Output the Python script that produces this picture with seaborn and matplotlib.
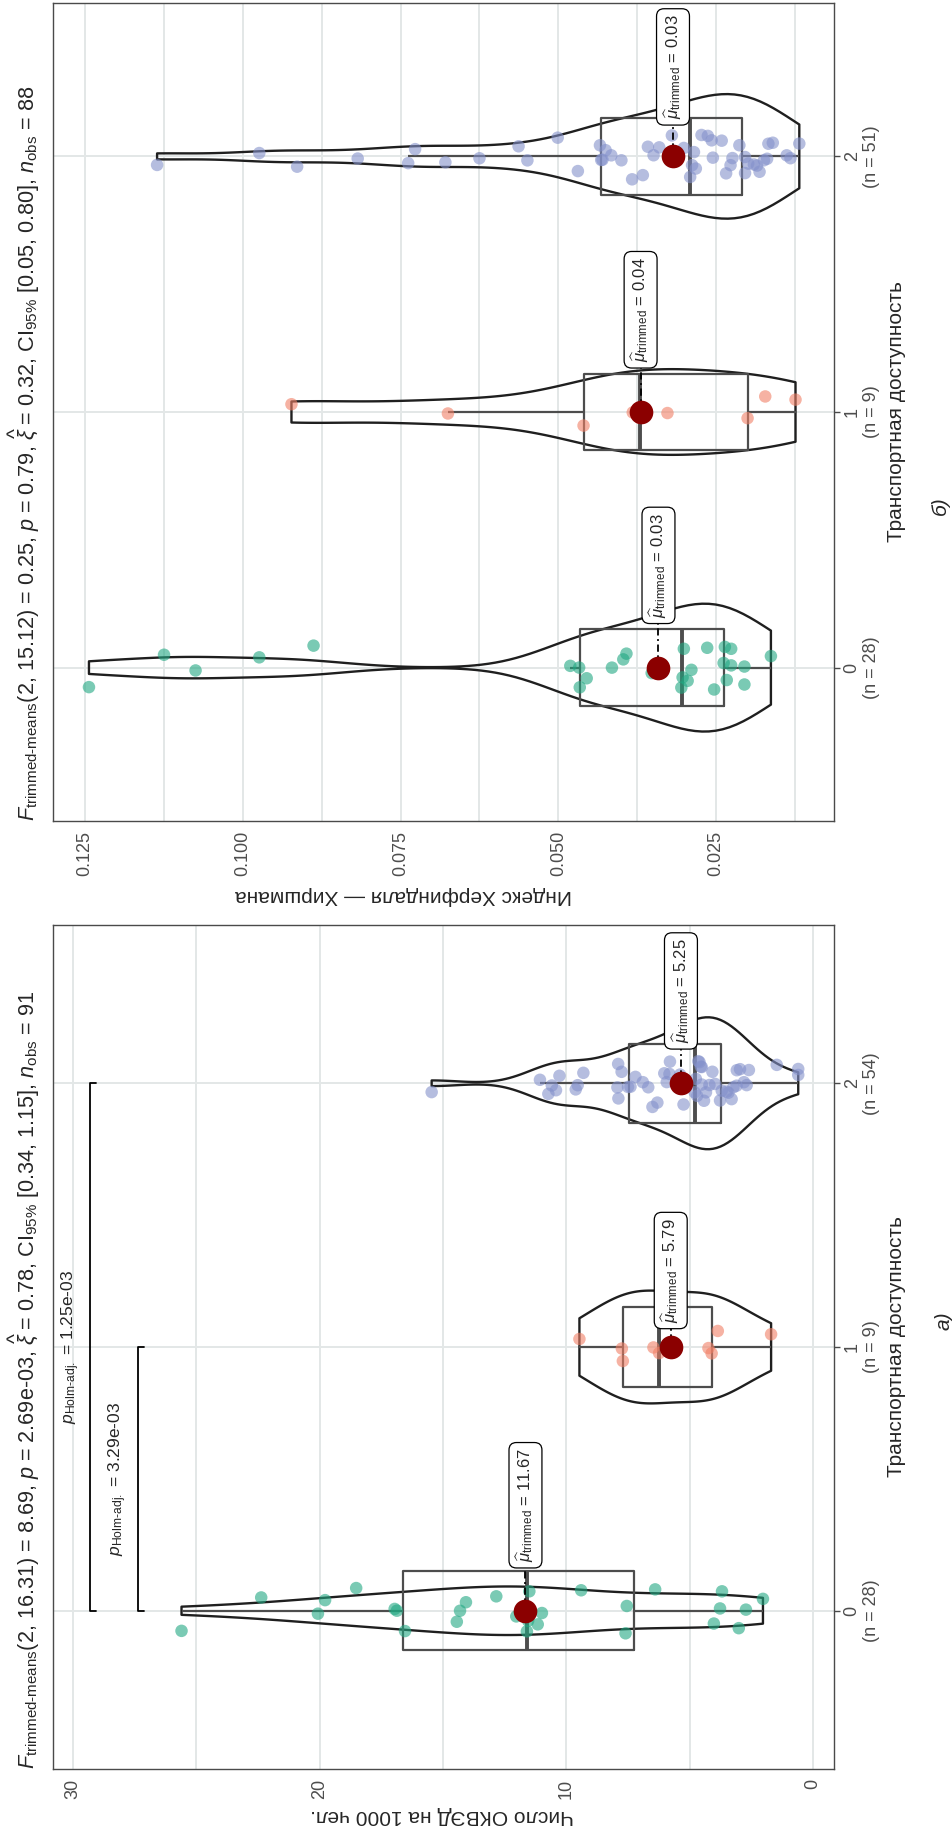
import numpy as np
import pandas as pd
import matplotlib
matplotlib.use("Agg")
import matplotlib.pyplot as plt
import seaborn as sns

sns.set_style("white")
plt.rcParams["font.family"] = ["Liberation Sans", "DejaVu Sans"]
plt.rcParams["mathtext.fontset"] = "custom"
plt.rcParams["mathtext.rm"] = "Liberation Sans"
plt.rcParams["mathtext.it"] = "Liberation Sans:italic"
plt.rcParams["mathtext.bf"] = "Liberation Sans:bold"

# ---------------- data ----------------
groups = ["0", "1", "2"]
palette = ["#21A882", "#F18066", "#8491CB"]

# panel a) : Число ОКВЭД на 1000 чел.
a_g0 = [25.6, 22.37, 20.07, 19.78, 18.52, 16.96, 16.87, 16.54, 14.44, 14.31,
        14.07, 12.84, 12.03, 11.6, 11.55, 11.5, 11.16, 10.99, 9.40, 7.60,
        7.55, 6.40, 4.02, 3.77, 3.69, 3.01, 2.72, 2.03]
a_g1 = [9.47, 7.75, 7.71, 6.47, 6.24, 4.24, 4.11, 3.86, 1.70]
a_g2 = [15.46, 11.07, 10.73, 10.59, 10.42, 10.28, 9.62, 9.54, 9.31, 7.93,
        7.90, 7.89, 7.76, 7.50, 7.40, 7.20, 6.90, 6.68, 6.51, 6.31,
        6.03, 5.93, 5.82, 5.80, 5.39, 5.25, 4.80, 4.75, 4.70, 4.65,
        4.60, 4.55, 4.51, 4.51, 4.42, 4.34, 4.20, 4.08, 3.97, 3.77,
        3.70, 3.50, 3.43, 3.30, 3.23, 3.10, 3.09, 2.96, 2.80, 2.69,
        2.60, 1.47, 0.60, 0.60]
a_mean_labels = ["11.67", "5.79", "5.25"]
a_title = (r"$\mathit{F}_{\mathrm{trimmed‐means}}$(2, 16.31) = 8.69, $\mathit{p}$ = 2.69e-03, "
           r"$\widehat{\xi}$ = 0.78, CI$_{95\%}$ [0.34, 1.15], $\mathit{n}_{\mathrm{obs}}$ = 91")
a_ylabel = "Число ОКВЭД на 1000 чел."
a_pairs = [(0, 1), (0, 2)]
a_pair_levels = [27.37, 29.31]
a_pair_p = ["3.29e-03", "1.25e-03"]

# panel б) : Индекс Херфиндаля — Хиршмана
b_g0 = [0.1244, 0.1125, 0.1075, 0.0974, 0.0888, 0.0481, 0.0467, 0.0466, 0.0455, 0.0415,
        0.0397, 0.0392, 0.0352, 0.0305, 0.0303, 0.0301, 0.0295, 0.0289, 0.0264, 0.0253,
        0.0238, 0.0236, 0.0233, 0.0226, 0.0226, 0.0205, 0.0205, 0.0163]
b_g1 = [0.0923, 0.0675, 0.0460, 0.0382, 0.0371, 0.0327, 0.0200, 0.0172, 0.0124]
b_g2 = [0.1136, 0.0974, 0.0914, 0.0818, 0.0738, 0.0727, 0.0679, 0.0625, 0.0563, 0.0549,
        0.0501, 0.0469, 0.0434, 0.0432, 0.0430, 0.0425, 0.0416, 0.0400, 0.0383, 0.0366,
        0.0358, 0.0349, 0.0340, 0.0320, 0.0301, 0.0291, 0.0288, 0.0285, 0.0282, 0.0273,
        0.0263, 0.0257, 0.0255, 0.0241, 0.0234, 0.0227, 0.0224, 0.0213, 0.0204, 0.0204,
        0.0199, 0.0190, 0.0185, 0.0181, 0.0174, 0.0169, 0.0167, 0.0160, 0.0138, 0.0132,
        0.0118]
b_mean_labels = ["0.03", "0.04", "0.03"]
b_title = (r"$\mathit{F}_{\mathrm{trimmed‐means}}$(2, 15.12) = 0.25, $\mathit{p}$ = 0.79, "
           r"$\widehat{\xi}$ = 0.32, CI$_{95\%}$ [0.05, 0.80], $\mathit{n}_{\mathrm{obs}}$ = 88")
b_ylabel = "Индекс Херфиндаля — Хиршмана"

xlabel = "Транспортная доступность"


# ---------------- helpers ----------------
def nrd0(kde):
    d = np.asarray(kde.dataset).ravel()
    n = d.size
    sd = d.std(ddof=1)
    q75, q25 = np.percentile(d, [75, 25])
    lo = min(sd, (q75 - q25) / 1.34)
    if lo <= 0:
        lo = sd
    return 0.9 * lo * n ** (-0.2) / sd


def trimmed_mean(v, tr=0.2):
    s = np.sort(np.asarray(v))
    g = int(np.floor(tr * len(s)))
    return s[g:len(s) - g].mean()


W, H = 953, 1829
fig = plt.figure(figsize=(W / 100, H / 100), dpi=100)


def fx(x):
    return x / W


def fy(y):
    return 1 - y / H


def add_ax(x0, y0, x1, y1):
    return fig.add_axes([fx(x0), fy(y1), (x1 - x0) / W, (y1 - y0) / H])


GRID = "#E3E7E7"
EDGE = "#4a4a4a"


def panel(ax, data, xlim, major, minor, fmt, mean_labels, label_off):
    df = pd.DataFrame({
        "value": np.concatenate([np.asarray(v, float) for v in data]),
        "group": np.repeat(groups, [len(v) for v in data]),
    })
    sns.violinplot(data=df, x="value", y="group", order=groups, orient="h",
                   inner=None, cut=0, density_norm="area", width=0.5,
                   fill=False, color="#1f1f1f", linewidth=1.7,
                   bw_method=nrd0, ax=ax)
    sns.boxplot(data=df, x="value", y="group", order=groups, orient="h",
                width=0.3, fill=False, color="#4d4d4d", linewidth=1.6,
                showfliers=False, showcaps=False,
                medianprops=dict(linewidth=2.8), ax=ax)
    np.random.seed(7)
    sns.stripplot(data=df, x="value", y="group", order=groups, hue="group",
                  hue_order=groups, palette=palette, orient="h", jitter=0.09,
                  size=9, alpha=0.6, linewidth=0, legend=False, ax=ax, zorder=3)
    means = [trimmed_mean(v) for v in data]
    for i, (m, lab, off) in enumerate(zip(means, mean_labels, label_off)):
        ax.plot([m, m], [i, i + off], color="black", lw=1.3,
                ls=(0, (4, 2, 1, 2)), zorder=5)
        ax.scatter([m], [i], s=290, color="#8B0000", zorder=6, linewidths=0)
        ax.text(m, i + off, r"$\widehat{\mu}_{\mathrm{trimmed}}$ = " + lab,
                rotation=90, ha="center", va="center", fontsize=12, zorder=7,
                bbox=dict(boxstyle="round,pad=0.35,rounding_size=0.45",
                          fc="white", ec="black", lw=0.9))
    ax.set_ylim(-0.6, 2.6)
    ax.set_xlim(*xlim)
    ax.set_xlabel("")
    ax.set_ylabel("")
    ax.set_xticks(major)
    ax.set_xticklabels([fmt.format(t) for t in major], rotation=90)
    ax.set_xticks(minor, minor=True)
    ax.yaxis.tick_right()
    ax.set_yticks([0, 1, 2])
    ax.set_yticklabels([f"{g}\n(n = {len(v)})" for g, v in zip(groups, data)],
                       rotation=90, va="center", ha="left",
                       multialignment="center")
    ax.tick_params(axis="both", which="major", length=4, width=1.0,
                   color=EDGE, labelsize=13, labelcolor="#4d4d4d", pad=3)
    ax.tick_params(axis="x", which="minor", length=0)
    ax.grid(True, which="major", axis="both", color=GRID, lw=1.4)
    ax.grid(True, which="minor", axis="x", color=GRID, lw=1.4)
    ax.set_axisbelow(True)
    for sp in ax.spines.values():
        sp.set_color(EDGE)
        sp.set_linewidth(1.0)
    return means


# ---------------- panel б) (top of the image) ----------------
axb = add_ax(53, 3, 834, 821)
panel(axb, [b_g0, b_g1, b_g2], (0.1301, 0.0063),
      [0.025, 0.050, 0.075, 0.100, 0.125],
      [0.0125, 0.0375, 0.0625, 0.0875, 0.1125],
      "{:.3f}", b_mean_labels, [0.40, 0.40, 0.35])
fig.text(fx(24), fy(821), b_title, rotation=90, rotation_mode="anchor",
         ha="left", va="center", fontsize=15.6)
fig.text(fx(403), fy(896), b_ylabel, rotation=180, ha="center", va="center",
         fontsize=15)
fig.text(fx(897), fy(412), xlabel, rotation=90, ha="center", va="center",
         fontsize=15)
fig.text(fx(940), fy(506), "б)", rotation=90, ha="center", va="center",
         fontsize=15, style="italic")

# ---------------- panel a) (bottom of the image) ----------------
axa = add_ax(53, 925, 834, 1769)
panel(axa, [a_g0, a_g1, a_g2], (30.81, -0.85),
      [0, 10, 20, 30], [5, 15, 25],
      "{:g}", a_mean_labels, [0.40, 0.29, 0.35])
for (g1, g2), lev, pv in zip(a_pairs, a_pair_levels, a_pair_p):
    tip = 0.25
    axa.plot([lev - tip, lev, lev, lev - tip], [g1, g1, g2, g2],
             color="black", lw=1.3, zorder=4)
    axa.text(lev + 0.8, (g1 + g2) / 2,
             r"$\mathit{p}_{\mathrm{Holm‐adj.}}$ = " + pv,
             rotation=90, ha="center", va="center", fontsize=12.5)
fig.text(fx(24), fy(1769), a_title, rotation=90, rotation_mode="anchor",
         ha="left", va="center", fontsize=15.6)
fig.text(fx(442), fy(1816), a_ylabel, rotation=180, ha="center", va="center",
         fontsize=15)
fig.text(fx(897), fy(1347), xlabel, rotation=90, ha="center", va="center",
         fontsize=15)
fig.text(fx(944), fy(1321), "а)", rotation=90, ha="center", va="center",
         fontsize=15, style="italic")

fig.savefig("out.png", dpi=100, facecolor="white")
